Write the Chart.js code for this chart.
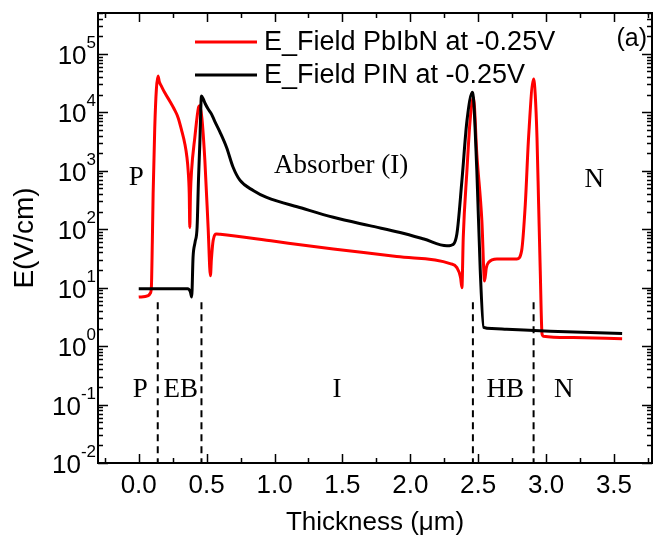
<!DOCTYPE html>
<html>
<head>
<meta charset="utf-8">
<script src="https://cdn.jsdelivr.net/npm/chart.js@4"></script>
<style>
  html, body { margin: 0; padding: 0; background: #fff; }
</style>
</head>
<body>
<canvas id="myChart" width="654" height="538"></canvas>
<script>
// E field along the device, PbIbN structure (red)
const pbibnX = [0.0, 0.07, 0.085, 0.093, 0.1, 0.106, 0.118, 0.13, 0.142, 0.152, 0.167, 0.19, 0.229, 0.26, 0.29, 0.315,
  0.34, 0.355, 0.364, 0.372, 0.376, 0.381, 0.389, 0.413, 0.44, 0.45, 0.465, 0.487, 0.511, 0.528, 0.535, 0.548,
  0.573, 0.6, 1.0, 1.433, 1.9, 2.293, 2.343, 2.37, 2.38, 2.39, 2.417, 2.44, 2.465, 2.49, 2.527, 2.547, 2.56, 2.576, 2.638,
  2.785, 2.82, 2.847, 2.871, 2.908, 2.92, 2.933, 2.945, 2.957, 2.97, 2.98, 3.2, 3.56];
const pbibnE = [6.9, 7.3, 8, 10, 60, 400, 5500, 25000, 42000, 33000, 28000, 22000, 15500, 11500, 8100, 5000,
  2850, 1700, 1000, 400, 107, 400, 1000, 3700, 12000, 13000, 8000, 1500, 107, 16, 30, 64,
  83, 82, 62, 46, 34, 25.8, 22, 15, 10, 73, 1000, 7100, 18000, 1900, 140, 13, 22, 27, 31,
  31, 43, 270, 3700, 37000, 20000, 3700, 270, 19.6, 1.63, 1.48, 1.4, 1.34];

// E field along the device, PIN structure (black)
const pinX = [0.0, 0.36, 0.38, 0.39, 0.40, 0.415, 0.43, 0.44, 0.45, 0.462, 0.475, 0.49, 0.51, 0.536, 0.56, 0.6,
  0.647, 0.695, 0.745, 0.843, 0.942, 1.2, 1.433, 1.7, 1.925, 2.1, 2.269, 2.30, 2.343, 2.38, 2.417, 2.458, 2.49,
  2.515, 2.54, 2.6, 2.71, 3.03, 3.56];
const pinE = [9.6, 9.6, 8.5, 6.9, 33, 60, 110, 700, 3000, 19000, 17000, 14000, 11500, 9300, 7000, 4500,
  2500, 1150, 690, 460, 350, 230, 160, 115, 88, 68, 52, 53, 83, 676, 7100, 22000, 1000,
  20, 2.1, 2.0, 1.95, 1.8, 1.65];

// layer boundaries (dashed markers)
const layerEdges = [0.14, 0.462, 2.461, 2.908];
const edgeTop = 5.6;

const xTickValues = [0, 0.5, 1, 1.5, 2, 2.5, 3, 3.5];
const xTickLabels = ['0.0', '0.5', '1.0', '1.5', '2.0', '2.5', '3.0', '3.5'];
const yTickExponents = [-2, -1, 0, 1, 2, 3, 4, 5];
const seriesNames = ['E_Field PbIbN at -0.25V', 'E_Field PIN at -0.25V'];

const SANS = '"Liberation Sans", Arial, sans-serif';
const SERIF = '"Liberation Serif", "Times New Roman", serif';

function toPoints(xs, ys) {
  return xs.map((x, i) => ({ x: x, y: ys[i] }));
}

const datasets = [
  {
    label: seriesNames[0],
    data: toPoints(pbibnX, pbibnE),
    borderColor: '#ff0000',
    borderWidth: 3,
    pointRadius: 0,
    cubicInterpolationMode: 'monotone',
    order: 2
  },
  {
    label: seriesNames[1],
    data: toPoints(pinX, pinE),
    borderColor: '#000000',
    borderWidth: 3,
    pointRadius: 0,
    cubicInterpolationMode: 'monotone',
    order: 1
  }
];
layerEdges.forEach(x => {
  datasets.push({
    label: 'edge',
    data: [{ x: x, y: edgeTop }, { x: x, y: 0.01 }],
    borderColor: '#000000',
    borderWidth: 2,
    borderDash: [7, 5],
    pointRadius: 0,
    order: 3
  });
});

const frame = {
  id: 'frame',
  afterDraw(chart) {
    const ctx = chart.ctx;
    const a = chart.chartArea;
    const xs = chart.scales.x, ys = chart.scales.y;
    ctx.save();
    ctx.strokeStyle = '#000';
    ctx.fillStyle = '#000';

    // frame
    ctx.lineWidth = 2;
    ctx.strokeRect(a.left, a.top, a.right - a.left, a.bottom - a.top);

    // x ticks (inward, bottom and top)
    ctx.lineWidth = 1.5;
    for (let v = -0.25; v <= 3.76; v += 0.25) {
      const px = Math.round(xs.getPixelForValue(v)) + 0.5;
      const major = Math.abs(v * 2 - Math.round(v * 2)) < 1e-6;
      const len = major ? 9 : 5;
      ctx.beginPath();
      ctx.moveTo(px, a.bottom); ctx.lineTo(px, a.bottom - len);
      ctx.moveTo(px, a.top); ctx.lineTo(px, a.top + len);
      ctx.stroke();
    }

    // y ticks (log, inward, left and right)
    for (let e = -2; e <= 5; e++) {
      for (let m = 1; m <= 9; m++) {
        const val = m * Math.pow(10, e);
        if (val > ys.max * 1.0001) continue;
        const py = Math.round(ys.getPixelForValue(val)) + 0.5;
        const len = m === 1 ? 10 : 5;
        ctx.beginPath();
        ctx.moveTo(a.left, py); ctx.lineTo(a.left + len, py);
        ctx.moveTo(a.right, py); ctx.lineTo(a.right - len, py);
        ctx.stroke();
      }
    }

    // x tick labels
    ctx.font = '26px ' + SANS;
    ctx.textAlign = 'center';
    ctx.textBaseline = 'alphabetic';
    xTickValues.forEach((v, i) => {
      ctx.fillText(xTickLabels[i], xs.getPixelForValue(v), 493);
    });

    // y tick labels 10^n
    yTickExponents.forEach(e => {
      const py = ys.getPixelForValue(Math.pow(10, e));
      ctx.font = '17px ' + SANS;
      const expText = String(e);
      const ew = ctx.measureText(expText).width;
      ctx.textAlign = 'right';
      ctx.fillText(expText, 96, py - 6);
      ctx.font = '26px ' + SANS;
      ctx.fillText('10', 96 - ew, py + 10);
    });

    // axis titles
    ctx.font = '26px ' + SANS;
    ctx.textAlign = 'center';
    ctx.fillText('Thickness (\u03bcm)', (a.left + a.right) / 2, 530);
    ctx.save();
    ctx.translate(33, (a.top + a.bottom) / 2);
    ctx.rotate(-Math.PI / 2);
    ctx.font = '28px ' + SANS;
    ctx.fillText('E(V/cm)', 0, 0);
    ctx.restore();

    // legend
    const legendColors = ['#ff0000', '#000000'];
    const legendY = [42, 75];
    seriesNames.forEach((name, i) => {
      ctx.strokeStyle = legendColors[i];
      ctx.lineWidth = 3;
      ctx.beginPath();
      ctx.moveTo(195, legendY[i]); ctx.lineTo(257, legendY[i]);
      ctx.stroke();
      ctx.font = '27px ' + SANS;
      ctx.textAlign = 'left';
      ctx.textBaseline = 'middle';
      ctx.fillText(name, 264, legendY[i] + 1);
    });
    ctx.textBaseline = 'alphabetic';
    ctx.textAlign = 'right';
    ctx.font = '25px ' + SANS;
    ctx.fillText('(a)', 647, 46);

    // layer annotations
    ctx.font = '27px ' + SERIF;
    ctx.textAlign = 'center';
    const upper = [['P', -0.018, 185], ['Absorber (I)', 1.49, 173], ['N', 3.355, 187]];
    const lower = [['P', 0.011], ['EB', 0.31], ['I', 1.46], ['HB', 2.70], ['N', 3.13]];
    upper.forEach(t => ctx.fillText(t[0], xs.getPixelForValue(t[1]), t[2]));
    lower.forEach(t => ctx.fillText(t[0], xs.getPixelForValue(t[1]), 397));
    ctx.restore();
  }
};

new Chart(document.getElementById('myChart'), {
  type: 'line',
  data: { datasets: datasets },
  options: {
    responsive: false,
    animation: false,
    layout: { padding: { left: 0, top: 13, right: 2, bottom: 0 } },
    plugins: { legend: { display: false }, tooltip: { enabled: false } },
    scales: {
      x: {
        type: 'linear',
        min: -0.3,
        max: 3.78,
        grid: { display: false },
        border: { display: false },
        ticks: { display: false },
        afterFit: s => { s.height = 75; }
      },
      y: {
        type: 'logarithmic',
        min: 0.01,
        max: 5e5,
        grid: { display: false },
        border: { display: false },
        ticks: { display: false },
        afterFit: s => { s.width = 98; }
      }
    }
  },
  plugins: [frame]
});
</script>
</body>
</html>
